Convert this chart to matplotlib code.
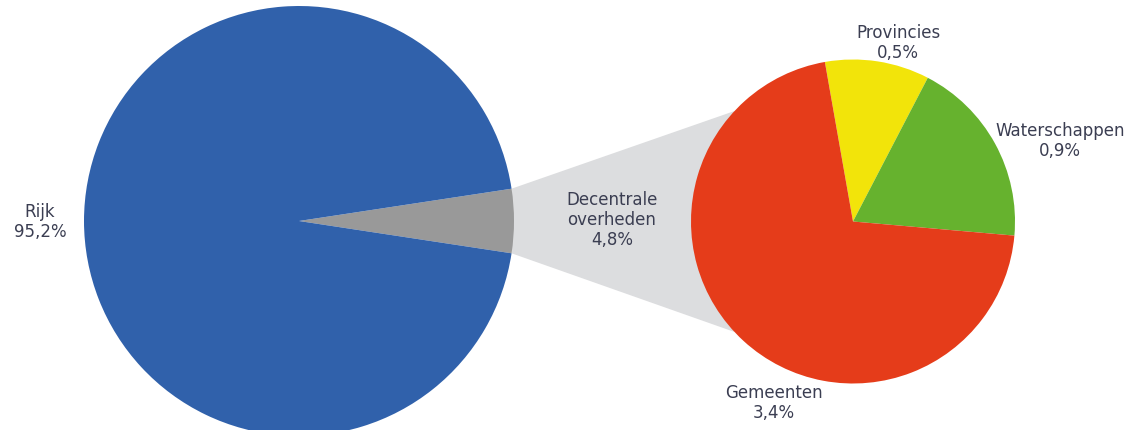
import numpy as np
import matplotlib.pyplot as plt
from matplotlib.patches import Polygon

# data
main_labels = ['Decentrale\noverheden\n4,8%', 'Rijk\n95,2%']
main_values = [4.8, 95.2]
sub_labels = ['Provincies\n0,5%', 'Waterschappen\n0,9%', 'Gemeenten\n3,4%']
sub_values = [0.5, 0.9, 3.4]

BLUE = '#3061ab'
GREY = '#999999'
LIGHT = '#dcdddf'
sub_colors = ['#f2e40a', '#66b22e', '#e53c1a']
TXT = '#3b3e52'

W, H = 1132, 430
fig = plt.figure(figsize=(W / 100, H / 100), dpi=100)
ax = fig.add_axes([0, 0, 1, 1])
ax.set_xlim(0, W)
ax.set_ylim(0, H)
ax.set_aspect('equal')
ax.axis('off')

big_c, big_r = (299, 209), 215
small_c, small_r = (853, 208.5), 162

half = main_values[0] / sum(main_values) * 180
wedges, _ = ax.pie(main_values, colors=[GREY, BLUE], startangle=-half,
                   center=big_c, radius=big_r, frame=True,
                   wedgeprops=dict(linewidth=0))
ax.pie(sub_values, colors=sub_colors, startangle=100, counterclock=False,
       center=small_c, radius=small_r, frame=True,
       wedgeprops=dict(linewidth=0))
ax.set_xlim(0, W)
ax.set_ylim(0, H)
ax.axis('off')

# connector between the grey wedge and the small pie
t1, t2 = np.deg2rad(wedges[0].theta1), np.deg2rad(wedges[0].theta2)
a_top, a_bot = np.deg2rad(137), np.deg2rad(223)
pts = [
    (big_c[0] + big_r * np.cos(t2), big_c[1] + big_r * np.sin(t2)),
    (small_c[0] + small_r * np.cos(a_top), small_c[1] + small_r * np.sin(a_top)),
    (small_c[0] + small_r * np.cos(a_bot), small_c[1] + small_r * np.sin(a_bot)),
    (big_c[0] + big_r * np.cos(t1), big_c[1] + big_r * np.sin(t1)),
]
ax.add_patch(Polygon(pts, closed=True, facecolor=LIGHT, edgecolor='none', zorder=0))

kw = dict(ha='center', va='center', fontsize=12, color=TXT, linespacing=1.12,
          family='DejaVu Sans')
ax.text(40, H - 222, main_labels[1], **kw)
ax.text(612, H - 220, main_labels[0], **kw)
ax.text(898, H - 43, sub_labels[0], **kw)
ax.text(1060, H - 141, sub_labels[1], **kw)
ax.text(774, H - 403, sub_labels[2], **kw)

fig.savefig('out.png', dpi=100)
